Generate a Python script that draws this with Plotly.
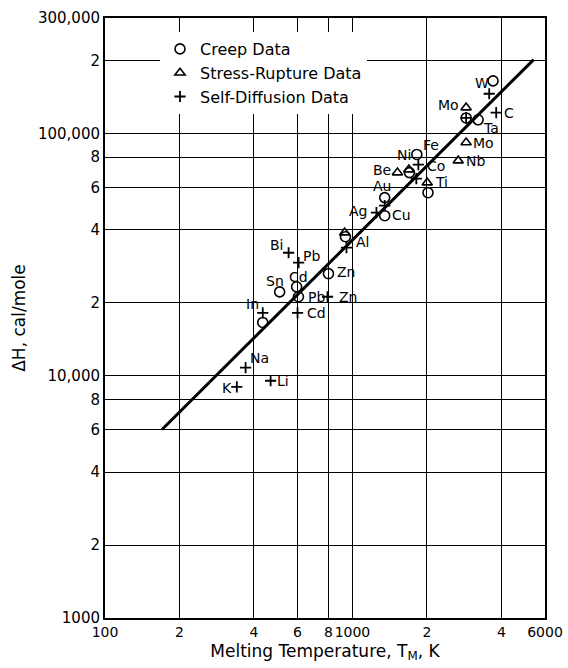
import math
import plotly.graph_objects as go

# ---------------- data ----------------
creep_x = [3700, 2880, 3220, 1820, 1700, 2020, 1350, 1350, 937, 800, 595, 508, 605, 434]
creep_y = [165000, 116000, 114000, 82000, 69000, 57000, 54400, 45800, 37500, 26400, 23300, 22200, 21200, 16600]

rupture_x = [2880, 2880, 2675, 1520, 1690, 2005, 930]
rupture_y = [128000, 91800, 77300, 69000, 71000, 62700, 39000]

diffusion_x = [3570, 2880, 3810, 1846, 1812, 1350, 1250, 946, 552, 606, 793, 600, 434, 370, 341, 467]
diffusion_y = [146000, 116000, 122000, 74500, 65200, 50400, 47200, 33800, 32200, 29300, 21200, 18200, 18200, 10800, 9000, 9540]

fit_x = [170, 5400]
fit_y = [6000, 202000]

label_text = ["W", "Mo", "C", "Ta", "Mo", "Nb", "Fe", "Ni", "Co", "Be", "Ti", "Au", "Ag", "Cu",
              "Al", "Bi", "Pb", "Zn", "Cd", "Sn", "Pb", "Zn", "Cd", "In", "Na", "K", "Li"]
label_x = [3342, 2438, 4295, 3636, 3373, 3133, 2082, 1621, 2182, 1321, 2285, 1321, 1057, 1576,
           1097, 494, 683, 946, 606, 485, 716, 955, 716, 395, 422, 310, 522]
label_y = [162400, 131800, 122100, 105900, 91800, 77300, 90100, 81900, 73800, 71000, 63300, 61000, 48100, 46300,
           35800, 34800, 31300, 26700, 25600, 24700, 21200, 21200, 18200, 19700, 11870, 8920, 9540]

x_tickvals = [100, 200, 400, 600, 800, 1000, 2000, 4000, 6000]
x_ticktext = ["100", "2", "4", "6", "8", "1000", "2", "4", "6000"]
y_tickvals = [1000, 2000, 4000, 6000, 8000, 10000, 20000, 40000, 60000, 80000, 100000, 200000, 300000]
y_ticktext = ["1000", "2", "4", "6", "8", "10,000", "2", "4", "6", "8", "100,000", "2", "300,000"]

series_names = ["Creep Data", "Stress-Rupture Data", "Self-Diffusion Data"]

# ---------------- layout constants ----------------
W, H = 568, 668
ML, MR, MT, MB = 105, 23, 18, 50
PW, PH = W - ML - MR, H - MT - MB
XR = [2, math.log10(6000)]
YR = [3, math.log10(300000)]
FONT = "DejaVu Sans"


def px_to_paper_x(dpx):
    return dpx / PW


def px_to_paper_y(dpx):
    return dpx / PH


def data_to_paper(x, y):
    return ((math.log10(x) - XR[0]) / (XR[1] - XR[0]),
            (math.log10(y) - YR[0]) / (YR[1] - YR[0]))


fig = go.Figure()

fig.add_trace(go.Scatter(x=fit_x, y=fit_y, mode="lines", line=dict(color="black", width=3),
                         showlegend=False, hoverinfo="skip"))
fig.add_trace(go.Scatter(x=creep_x, y=creep_y, mode="markers", name=series_names[0],
                         marker=dict(symbol="circle-open", size=10, color="black", line=dict(width=1.6))))
fig.add_trace(go.Scatter(x=rupture_x, y=rupture_y, mode="markers", name=series_names[1],
                         marker=dict(symbol="triangle-up-open", size=9, color="black", line=dict(width=1.6))))
fig.add_trace(go.Scatter(x=diffusion_x, y=diffusion_y, mode="markers", name=series_names[2],
                         marker=dict(symbol="cross-thin-open", size=8, color="black", line=dict(width=1.8))))

shapes = []
annotations = []
for t, x, y in zip(label_text, label_x, label_y):
    annotations.append(dict(x=math.log10(x), y=math.log10(y), xref="x", yref="y", text=t,
                            showarrow=False, font=dict(family=FONT, size=14, color="black")))
    px, py = data_to_paper(x, y)
    hw = px_to_paper_x(len(t) * 5 + 3)
    hh = px_to_paper_y(8)
    shapes.append(dict(type="rect", xref="paper", yref="paper", x0=px - hw, x1=px + hw,
                       y0=py - hh, y1=py + hh, fillcolor="white", line=dict(width=0), layer="between"))

# blank area behind legend
shapes.append(dict(type="rect", xref="paper", yref="paper",
                   x0=px_to_paper_x(167 - ML), x1=px_to_paper_x(427 - ML),
                   y0=px_to_paper_y(H - MB - 125), y1=px_to_paper_y(H - MB - 29),
                   fillcolor="white", line=dict(width=0), layer="between"))

axis_common = dict(type="log", showgrid=True, gridcolor="black", gridwidth=1, showline=True,
                   linecolor="black", linewidth=2, mirror=True, ticks="", zeroline=False,
                   tickangle=0)

fig.update_layout(
    width=W, height=H, autosize=False,
    margin=dict(l=ML, r=MR, t=MT, b=MB),
    paper_bgcolor="white", plot_bgcolor="white",
    xaxis=dict(range=XR, tickvals=x_tickvals, ticktext=x_ticktext,
               tickfont=dict(family=FONT, size=14, color="black"),
               title=dict(text="Melting Temperature, T<sub>M</sub>, K",
                          font=dict(family=FONT, size=17, color="black"), standoff=6),
               automargin=False, **axis_common),
    yaxis=dict(range=YR, tickvals=y_tickvals, ticktext=y_ticktext,
               tickfont=dict(family=FONT, size=15, color="black"),
               title=dict(text="ΔH, cal/mole", font=dict(family=FONT, size=17, color="black"), standoff=8),
               automargin=False, **axis_common),
    legend=dict(x=px_to_paper_x(160 - ML), y=px_to_paper_y(H - MB - 32), xanchor="left", yanchor="top",
                bgcolor="white", font=dict(family=FONT, size=16, color="black"), borderwidth=0),
    shapes=shapes,
    annotations=annotations,
    showlegend=True,
)

fig.write_html("out.html")
